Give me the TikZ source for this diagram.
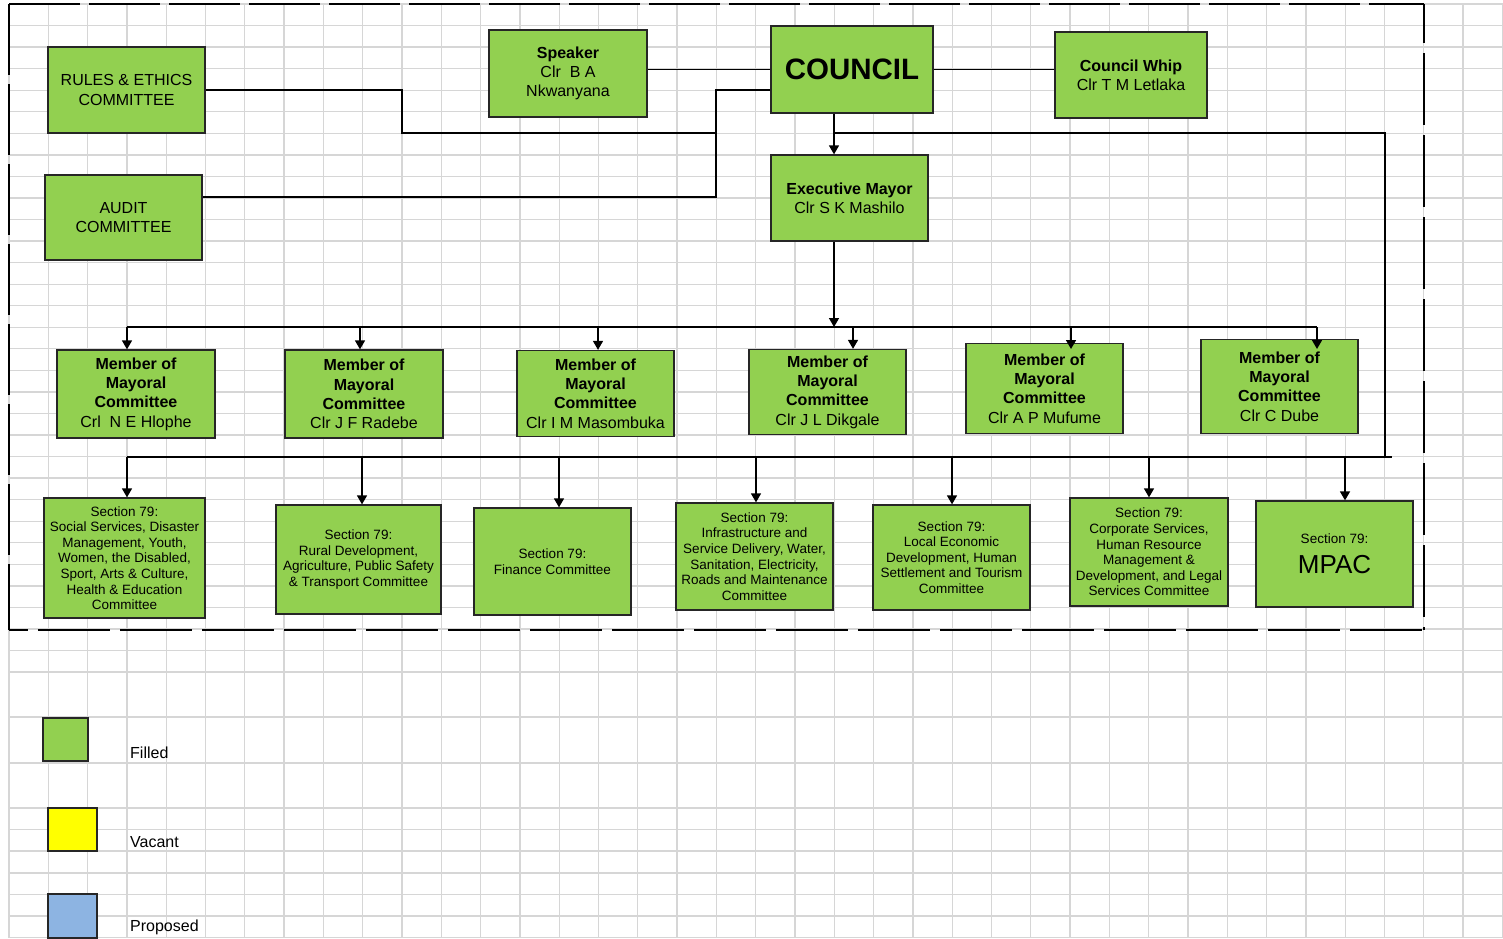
\documentclass[tikz,border=0pt]{standalone}
\usepackage{fontspec}
\setmainfont{Liberation Sans}
\usetikzlibrary{arrows.meta}
\definecolor{boxgreen}{RGB}{146,208,80}
\definecolor{gridgray}{RGB}{214,214,214}
\definecolor{legyellow}{RGB}{255,255,0}
\definecolor{legblue}{RGB}{141,180,226}

\begin{document}
\begin{tikzpicture}[x=1pt,y=-1pt,
  gridline/.style={gridgray,line width=1.3pt},
  box/.style={draw=black!85,line width=1.3pt,fill=boxgreen,inner sep=0pt,
    align=center,font=\fontsize{16}{19.3}\selectfont},
  secbox/.style={box,font=\fontsize{13.5}{15.6}\selectfont},
  legbox/.style={draw=black!85,line width=1.3pt,inner sep=0pt},
  legtext/.style={anchor=west,inner sep=0pt,font=\fontsize{16}{19}\selectfont},
  conn/.style={line width=1.5pt,black},
  arr/.style={conn,-{Triangle[length=9pt,width=10pt]}},
  size/.style 2 args={minimum width=#1pt,minimum height=#2pt}]

\useasboundingbox (0,0) rectangle (1503,938);
\fill[white] (0,0) rectangle (1503,938);

% spreadsheet grid
\foreach \k in {0,...,38}
  \draw[gridline] ({9+39.3*\k},4) -- ({9+39.3*\k},938);
\foreach \k in {0,...,31}
  \draw[gridline] (9,{4+21.55*\k}) -- (1503,{4+21.55*\k});
\foreach \yy in {717,763,808,829.5,851,873,894.5,916,937.5}
  \draw[gridline] (9,\yy) -- (1503,\yy);

% dashed frame round the structure
\draw[line width=1.5pt,dash pattern=on 71pt off 9pt] (9,4) -- (1424,4);
\draw[line width=1.2pt,dash pattern=on 71pt off 9pt] (9,4) -- (9,630);
\draw[line width=2.7pt,dash pattern=on 72pt off 10pt,dash phase=53pt] (9,630) -- (1425.3,630);
\draw[line width=2.7pt,dash pattern=on 72pt off 10pt,dash phase=33pt] (1424,4) -- (1424,630);

% top level
\node[box,size={157}{86}] (rules) at (126.5,90) {RULES \& ETHICS\\COMMITTEE};
\node[box,size={157}{85}] (audit) at (123.5,217.5) {AUDIT\\COMMITTEE};
\node[box,size={158}{87}] (speaker) at (568,73.5) {\textbf{Speaker}\\Clr\ \ B A\\Nkwanyana};
\node[box,size={162}{87},font=\fontsize{29.5}{32}\selectfont\bfseries] (council) at (852,69.5) {COUNCIL};
\node[box,size={152}{86}] (whip) at (1131,75) {\textbf{Council Whip}\\Clr T M Letlaka};
\node[box,size={157}{86}] (em) at (849.5,198) {\textbf{Executive Mayor}\\Clr S K Mashilo};

% members of the mayoral committee
\node[box,size={158}{88}] (m1) at (136,394) {\textbf{Member of}\\\textbf{Mayoral}\\\textbf{Committee}\\Crl\ \ N E Hlophe};
\node[box,size={158}{88}] (m2) at (364,394) {\textbf{Member of}\\\textbf{Mayoral}\\\textbf{Committee}\\Clr J F Radebe};
\node[box,size={157}{86}] (m3) at (595.5,393.5) {\textbf{Member of}\\\textbf{Mayoral}\\\textbf{Committee}\\Clr I M Masombuka};
\node[box,size={157}{85}] (m4) at (827.5,392) {\textbf{Member of}\\\textbf{Mayoral}\\\textbf{Committee}\\Clr J L Dikgale};
\node[box,size={157}{90}] (m5) at (1044.5,388.5) {\textbf{Member of}\\\textbf{Mayoral}\\\textbf{Committee}\\Clr A P Mufume};
\node[box,size={157}{94}] (m6) at (1279.5,386.5) {\textbf{Member of}\\\textbf{Mayoral}\\\textbf{Committee}\\Clr C Dube};

% section 79 committees
\node[secbox,size={161}{120}] (s1) at (124.5,558) {Section 79:\\Social Services, Disaster\\Management, Youth,\\Women, the Disabled,\\Sport, Arts \& Culture,\\Health \& Education\\Committee};
\node[secbox,size={165}{109}] (s2) at (358.5,559.5) {Section 79:\\Rural Development,\\Agriculture, Public Safety\\\& Transport Committee};
\node[secbox,size={157}{107}] (s3) at (552.5,561.5) {Section 79:\\Finance Committee};
\node[secbox,size={157}{107}] (s4) at (754.5,556.5) {Section 79:\\Infrastructure and\\Service Delivery, Water,\\Sanitation, Electricity,\\Roads and Maintenance\\Committee};
\node[secbox,size={157}{105}] (s5) at (951.5,557.5) {Section 79:\\Local Economic\\Development, Human\\Settlement and Tourism\\Committee};
\node[secbox,size={158}{108}] (s6) at (1149,552) {Section 79:\\Corporate Services,\\Human Resource\\Management \&\\Development, and Legal\\Services Committee};
\node[secbox,size={157}{106}] (s7) at (1334.5,554) {Section 79:\\[11pt]{\fontsize{26}{28}\selectfont MPAC}};

% junction points of the connectors
\coordinate (ja) at (716,90);
\coordinate (jb) at (716,133);
\coordinate (jc) at (402,133);
\coordinate (jd) at (716,197);
\coordinate (jm) at (834,133);
\coordinate (jr) at (1385,133);
\coordinate (jr2) at (1385,457);
\coordinate (mbusL) at (127,327);
\coordinate (mbusR) at (1317,327);
\coordinate (mbusM) at (834,327);
\coordinate (sbusL) at (127,457);
\coordinate (sbusR) at (1392,457);

% council links
\draw[conn] (council.west) -- (council.west -| speaker.east);
\draw[conn] (council.east) -- (council.east -| whip.west);
\draw[conn] (council.west |- ja) -- (ja) -- (jd) -- (audit.east |- jd);
\draw[conn] (jb) -- (jc) |- (rules.east);
\draw[arr] (council.south -| jm) -- (em.north -| jm);
\draw[conn] (jm) -- (jr) -- (jr2);

% executive mayor to the members
\draw[arr] (em.south -| mbusM) -- (mbusM);
\draw[conn] (mbusL) -- (mbusR);
\draw[arr] (mbusL) -- (m1.north -| mbusL);
\draw[arr] (360,327) -- (m2.north -| 360,0);
\draw[arr] (598,327) -- (m3.north -| 598,0);
\draw[arr] (853,327) -- (m4.north -| 853,0);
\draw[arr] (1071,327) -- (1071,349);
\draw[arr] (mbusR) -- (1317,349);

% bus to the section 79 committees
\draw[conn] (sbusL) -- (sbusR);
\draw[arr] (sbusL) -- (s1.north -| sbusL);
\draw[arr] (362,457) -- (s2.north -| 362,0);
\draw[arr] (559,457) -- (s3.north -| 559,0);
\draw[arr] (756,457) -- (s4.north -| 756,0);
\draw[arr] (952,457) -- (s5.north -| 952,0);
\draw[arr] (1149,457) -- (s6.north -| 1149,0);
\draw[arr] (1345,457) -- (s7.north -| 1345,0);

% legend
\node[legbox,fill=boxgreen,size={45}{43}] (lg1) at (65.5,739.5) {};
\node[legbox,fill=legyellow,size={49}{43}] (lg2) at (72.5,829.5) {};
\node[legbox,fill=legblue,size={49}{44}] (lg3) at (72.5,916) {};
\node[legtext] (lt1) at (130,753) {Filled};
\node[legtext] (lt2) at (130,842) {Vacant};
\node[legtext] (lt3) at (130,927) {Proposed};
\end{tikzpicture}
\end{document}
